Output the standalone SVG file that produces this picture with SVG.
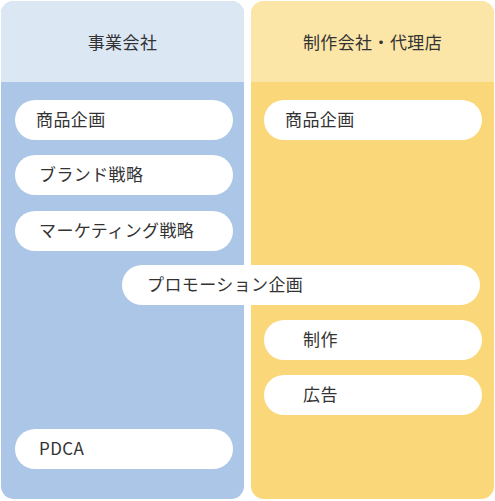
<svg xmlns="http://www.w3.org/2000/svg" width="495" height="501" viewBox="0 0 495 501">
<style>
.t{font-family:"Noto Sans CJK JP","Noto Sans",sans-serif;font-size:17px;letter-spacing:0.4px;fill:#333;dominant-baseline:central}
.h{font-family:"Noto Sans CJK JP","Noto Sans",sans-serif;font-size:17px;letter-spacing:0.4px;fill:#333;dominant-baseline:central;text-anchor:middle}
.p{fill:#fff}
</style>
<defs>
<clipPath id="cl"><rect x="1" y="1" width="243" height="498" rx="13"/></clipPath>
<clipPath id="cr"><rect x="251" y="1" width="243" height="498" rx="13"/></clipPath>
</defs>
<g id="col-left">
<g clip-path="url(#cl)">
<rect x="1" y="1" width="243" height="498" fill="#ABC6E6"/>
<rect x="1" y="1" width="243" height="81" fill="#DCE7F4"/>
</g>
<text class="h" x="122.5" y="41">事業会社</text>
</g>
<g id="col-right">
<g clip-path="url(#cr)">
<rect x="251" y="1" width="243" height="498" fill="#FAD778"/>
<rect x="251" y="1" width="243" height="81" fill="#FBE6A8"/>
</g>
<text class="h" x="372.5" y="41">制作会社・代理店</text>
</g>
<g id="connectors"></g>
<g id="n1"><rect class="p" x="15" y="100" width="218" height="40" rx="20"/><text class="t" x="36" y="118.5">商品企画</text></g>
<g id="n2"><rect class="p" x="15" y="155" width="218" height="40" rx="20"/><text class="t" x="39" y="173.5">ブランド戦略</text></g>
<g id="n3"><rect class="p" x="15" y="211" width="218" height="40" rx="20"/><text class="t" x="39" y="229.5">マーケティング戦略</text></g>
<g id="n4"><rect class="p" x="122" y="265" width="358" height="40" rx="20"/><text class="t" x="147" y="283.5">プロモーション企画</text></g>
<g id="n5"><rect class="p" x="15" y="429" width="218" height="40" rx="20"/><text class="t" x="39" y="447.5">PDCA</text></g>
<g id="n6"><rect class="p" x="264" y="100" width="218" height="40" rx="20"/><text class="t" x="285" y="118.5">商品企画</text></g>
<g id="n7"><rect class="p" x="264" y="320" width="218" height="40" rx="20"/><text class="t" x="303" y="338.5">制作</text></g>
<g id="n8"><rect class="p" x="264" y="375" width="218" height="40" rx="20"/><text class="t" x="303" y="393.5">広告</text></g>
</svg>
